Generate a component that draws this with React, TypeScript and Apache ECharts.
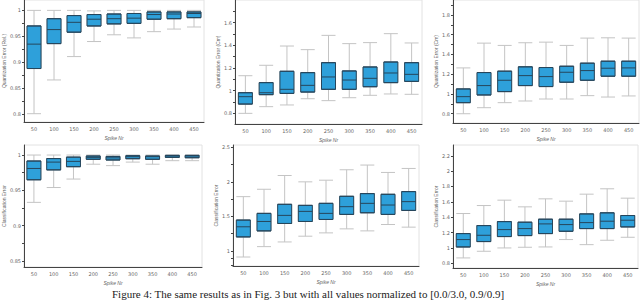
import React, { useEffect, useRef } from "react";
import * as echarts from "echarts";

const categories = ["50", "100", "150", "200", "250", "300", "350", "400", "450"];

// [min, Q1, median, Q3, max]
const panel1 = [
  [0.801, 0.888, 0.935, 0.97, 1.0],
  [0.866, 0.936, 0.963, 0.984, 1.0],
  [0.911, 0.958, 0.977, 0.99, 1.0],
  [0.94, 0.97, 0.983, 0.992, 0.999],
  [0.953, 0.974, 0.984, 0.993, 1.0],
  [0.947, 0.975, 0.985, 0.994, 1.0],
  [0.959, 0.983, 0.992, 0.997, 1.0],
  [0.964, 0.984, 0.993, 0.997, 1.0],
  [0.968, 0.986, 0.994, 0.997, 1.0],
];
const panel2 = [
  [0.8, 0.882, 0.947, 0.982, 1.132],
  [0.859, 0.965, 0.982, 1.071, 1.224],
  [0.874, 0.976, 1.012, 1.171, 1.394],
  [0.929, 0.988, 1.047, 1.159, 1.362],
  [0.912, 1.012, 1.121, 1.247, 1.488],
  [0.938, 1.012, 1.094, 1.174, 1.415],
  [0.959, 1.035, 1.109, 1.209, 1.424],
  [0.971, 1.071, 1.156, 1.253, 1.503],
  [0.968, 1.082, 1.144, 1.247, 1.421],
];
const panel3 = [
  [0.8, 0.912, 0.973, 1.051, 1.264],
  [0.861, 0.99, 1.085, 1.217, 1.515],
  [0.912, 1.024, 1.139, 1.231, 1.492],
  [0.929, 1.085, 1.186, 1.275, 1.519],
  [0.949, 1.075, 1.176, 1.268, 1.525],
  [0.949, 1.119, 1.22, 1.281, 1.492],
  [0.983, 1.139, 1.237, 1.312, 1.566],
  [0.969, 1.18, 1.261, 1.332, 1.569],
  [0.98, 1.18, 1.264, 1.332, 1.566],
];
const panel4 = [
  [0.933, 0.965, 0.981, 0.9915, 1.0],
  [0.954, 0.979, 0.99, 0.995, 1.0],
  [0.966, 0.9835, 0.991, 0.997, 1.0],
  [0.987, 0.994, 0.9967, 0.9986, 1.0],
  [0.985, 0.993, 0.996, 0.998, 1.0],
  [0.99, 0.9948, 0.9976, 0.999, 1.0],
  [0.987, 0.994, 0.9976, 0.9986, 1.0],
  [0.992, 0.9967, 0.9986, 0.9995, 1.0],
  [0.992, 0.9962, 0.9986, 0.9995, 1.0],
];
const panel5 = [
  [0.913, 1.204, 1.35, 1.447, 1.786],
  [1.063, 1.291, 1.427, 1.544, 1.893],
  [1.131, 1.398, 1.515, 1.675, 2.092],
  [1.214, 1.427, 1.573, 1.66, 2.0],
  [1.262, 1.456, 1.544, 1.689, 2.024],
  [1.32, 1.529, 1.641, 1.791, 2.175],
  [1.291, 1.553, 1.689, 1.83, 2.243],
  [1.383, 1.529, 1.665, 1.82, 2.136],
  [1.345, 1.587, 1.714, 1.859, 2.194],
];
const panel6 = [
  [0.87, 1.013, 1.109, 1.187, 1.448],
  [0.957, 1.083, 1.165, 1.291, 1.552],
  [1.0, 1.148, 1.239, 1.343, 1.622],
  [1.009, 1.161, 1.252, 1.335, 1.535],
  [1.013, 1.187, 1.313, 1.374, 1.639],
  [1.109, 1.217, 1.304, 1.374, 1.609],
  [1.043, 1.252, 1.33, 1.443, 1.7],
  [1.1, 1.252, 1.348, 1.457, 1.77],
  [1.139, 1.274, 1.361, 1.422, 1.648],
];

const yTicks1 = [0.8, 0.85, 0.9, 0.95, 1];
const yTicks2 = [0.8, 1, 1.2, 1.4, 1.6];
const yTicks3 = [0.8, 1, 1.2, 1.4, 1.6, 1.8];
const yTicks4 = [0.85, 0.9, 0.95, 1];
const yTicks5 = [1, 1.5, 2, 2.5];
const yTicks6 = [0.8, 1, 1.2, 1.4, 1.6, 1.8, 2, 2.2];

const minorTicks1 = [0.8, 0.825, 0.85, 0.875, 0.9, 0.925, 0.95, 0.975, 1];
const minorTicks2 = [0.8, 0.9, 1, 1.1, 1.2, 1.3, 1.4, 1.5, 1.6, 1.7];
const minorTicks3 = [0.8, 0.9, 1, 1.1, 1.2, 1.3, 1.4, 1.5, 1.6, 1.7, 1.8, 1.9];
const minorTicks4 = [0.85, 0.875, 0.9, 0.925, 0.95, 0.975, 1];
const minorTicks5 = [0.8, 0.9, 1, 1.25, 1.5, 1.75, 2, 2.25, 2.5];
const minorTicks6 = [0.8, 1, 1.2, 1.4, 1.6, 1.8, 2, 2.2];

const yNames = [
  "Quantization Error (Rel.)",
  "Quantization Error (Cm)",
  "Quantization Error (Cm)",
  "Classification Error",
  "Classification Error",
  "Classification Error",
];
const xName = "Spike Nr";
const caption =
  "Figure 4: The same results as in Fig. 3 but with all values normalized to [0.0/3.0, 0.9/0.9]";

const panels = [
  { data: panel1, ticks: yTicks1, minor: minorTicks1, min: 0.785, max: 1.02 },
  { data: panel2, ticks: yTicks2, minor: minorTicks2, min: 0.706, max: 1.8 },
  { data: panel3, ticks: yTicks3, minor: minorTicks3, min: 0.706, max: 1.952 },
  { data: panel4, ticks: yTicks4, minor: minorTicks4, min: 0.8415, max: 1.0142 },
  { data: panel5, ticks: yTicks5, minor: minorTicks5, min: 0.783, max: 2.533 },
  { data: panel6, ticks: yTicks6, minor: minorTicks6, min: 0.739, max: 2.34 },
];

const layout = [
  { left: 20, top: 0, width: 184, height: 122, nameGap: 15 },
  { left: 235, top: 0, width: 187, height: 124, nameGap: 12 },
  { left: 453, top: 0, width: 186, height: 123, nameGap: 11 },
  { left: 18, top: 145, width: 184, height: 122, nameGap: 14 },
  { left: 233, top: 145, width: 186, height: 121, nameGap: 10 },
  { left: 453, top: 145, width: 185, height: 123, nameGap: 13 },
];

export default function App() {
  const ref = useRef<HTMLDivElement>(null);
  useEffect(() => {
    if (!ref.current) return;
    const chart = echarts.init(ref.current, null, { renderer: "svg" });
    const grid: any[] = [];
    const xAxis: any[] = [];
    const yAxis: any[] = [];
    const series: any[] = [];
    const labelStyle = { fontSize: 5, color: "#666", fontFamily: "DejaVu Sans" };
    panels.forEach((p, i) => {
      const l = layout[i];
      grid.push({
        left: l.left,
        top: l.top,
        width: l.width,
        height: l.height,
        show: true,
        borderColor: "#e2e2e2",
        borderWidth: 1,
        backgroundColor: "#fff",
      });
      xAxis.push({
        type: "category",
        gridIndex: i,
        data: categories,
        name: xName,
        nameLocation: "middle",
        nameGap: 13,
        nameTextStyle: { fontSize: 5, color: "#666", fontStyle: "italic" },
        axisLine: { lineStyle: { color: "#444", width: 1 } },
        axisTick: { alignWithLabel: true, length: 2, lineStyle: { color: "#444" } },
        axisLabel: { ...labelStyle, margin: 4, interval: 0 },
        splitLine: { show: false },
      });
      xAxis.push({
        type: "category",
        gridIndex: i,
        data: categories,
        show: false,
      });
      yAxis.push({
        type: "value",
        gridIndex: i,
        min: p.min,
        max: p.max,
        name: yNames[i],
        nameLocation: "middle",
        nameGap: l.nameGap,
        nameRotate: 90,
        nameTextStyle: { fontSize: 5, color: "#666" },
        axisLine: { show: true, lineStyle: { color: "#444", width: 1 } },
        axisTick: { show: true, length: 2, customValues: p.minor, lineStyle: { color: "#444" } },
        axisLabel: {
          ...labelStyle,
          margin: 3,
          customValues: p.ticks,
          formatter: (v: number) => String(parseFloat(v.toFixed(3))),
        },
        splitLine: { show: false },
      });
      series.push({
        type: "boxplot",
        xAxisIndex: 2 * i,
        yAxisIndex: i,
        boxWidth: [14, 14],
        data: p.data,
        itemStyle: { color: "rgba(0,0,0,0)", borderColor: "#c4c4c4", borderWidth: 1 },
        emphasis: { disabled: true },
        z: 2,
      });
      series.push({
        type: "boxplot",
        xAxisIndex: 2 * i + 1,
        yAxisIndex: i,
        boxWidth: [14, 14],
        data: p.data.map((d) => [d[1], d[1], d[2], d[3], d[3]]),
        itemStyle: { color: "#2ea0da", borderColor: "#26465c", borderWidth: 1 },
        emphasis: { disabled: true },
        z: 3,
      });
    });
    chart.setOption({
      animation: false,
      backgroundColor: "#fff",
      grid,
      xAxis,
      yAxis,
      series,
      graphic: [
        {
          type: "text",
          left: 112,
          top: 288,
          style: {
            text: caption,
            font: "11px 'Liberation Serif'",
            fill: "#222",
          },
        },
      ],
    });
    return () => chart.dispose();
  }, []);
  return (
    <div
      ref={ref}
      style={{ position: "absolute", left: 0, top: 0, width: 640, height: 301 }}
    />
  );
}
